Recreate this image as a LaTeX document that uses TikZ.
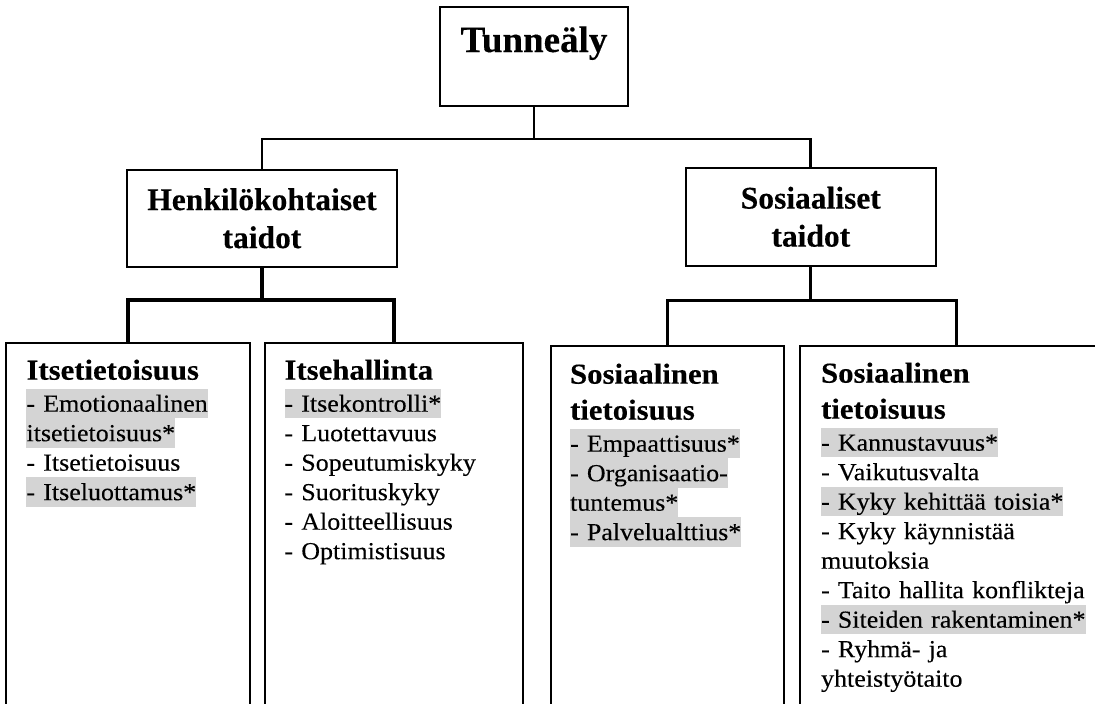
\documentclass[tikz,border=0pt]{standalone}
\usepackage{fontspec}
\setmainfont{Liberation Serif}[FakeBold=0.25]
\newfontfamily\leaffont{Liberation Serif}[FakeStretch=1.06, FakeBold=0.25]
\usepackage{tikz}
\usetikzlibrary{positioning}
\definecolor{mark-grey}{RGB}{212,212,212}

\newcommand{\hilite}[1]{{\setlength{\fboxsep}{0pt}\colorbox{mark-grey}{\rule[-6.5pt]{0pt}{29.5pt}#1}}}
\newcommand{\leaftitle}[1]{{\fontsize{29}{36}\selectfont\bfseries #1}}

\begin{document}
\begin{tikzpicture}[
    x=1pt, y=-1pt,
    topbox/.style={rectangle, draw, line width=1.8pt, inner sep=0pt, font=\fontsize{37}{42}\selectfont\bfseries},
    midbox/.style={rectangle, draw, line width=1.8pt, align=center, font=\fontsize{31.5}{38}\selectfont\bfseries},
    leafbox/.style={rectangle, draw, line width=1.8pt, inner sep=0pt},
    leaftxt/.style={anchor=base west, inner sep=0pt, align=left, font=\leaffont\fontsize{24.5}{29.5}\selectfont},
    conn/.style={line width=2.8pt},
    bar/.style={line width=3.6pt}
]
\useasboundingbox (0,0) rectangle (1095,704);
\clip (0,0) rectangle (1095,704);

% top levels
\node[topbox, minimum width=188pt, text height=45pt, text depth=54pt] (tunnealy) at (534,56.5) {Tunneäly};
\node[midbox, minimum width=269.5pt, minimum height=97pt, below left=62pt and 41.5pt of tunnealy] (henkilo) {Henkilökohtaiset\\taidot};
\node[midbox, minimum width=250pt, minimum height=98pt, below right=60pt and 56pt of tunnealy] (sosiaali) {Sosiaaliset\\taidot};

% leaf boxes
\node[leafbox, minimum width=243.5pt, minimum height=363.5pt, below=74pt of henkilo, xshift=-134pt] (itsetieto) {};
\node[leafbox, minimum width=258pt, minimum height=363.5pt, below=74pt of henkilo, xshift=132.25pt] (itsehallinta) {};
\node[leafbox, minimum width=233pt, minimum height=360.5pt, below=78pt of sosiaali, xshift=-143.5pt] (sostieto) {};
\node[leafbox, minimum width=314pt, minimum height=360.5pt, below=78pt of sosiaali, xshift=146pt] (sostaito) {};

% leaf texts
\node[leaftxt, text width=225pt] (itsetietoTxt) at ([xshift=21pt, yshift=-38pt]itsetieto.north west) {%
  \leaftitle{Itsetietoisuus}\\[2.5pt]
  \hilite{- Emotionaalinen}\\
  \hilite{itsetietoisuus*}\\
  - Itsetietoisuus\\
  \hilite{- Itseluottamus*}};
\node[leaftxt, text width=235pt] (itsehallintaTxt) at ([xshift=20pt, yshift=-38pt]itsehallinta.north west) {%
  \leaftitle{Itsehallinta}\\[2.5pt]
  \hilite{- Itsekontrolli*}\\
  - Luotettavuus\\
  - Sopeutumiskyky\\
  - Suorituskyky\\
  - Aloitteellisuus\\
  - Optimistisuus};
\node[leaftxt, text width=210pt] (sostietoTxt) at ([xshift=20pt, yshift=-39pt]sostieto.north west) {%
  \leaftitle{Sosiaalinen}\\[6.5pt]
  \leaftitle{tietoisuus}\\[2.5pt]
  \hilite{- Empaattisuus*}\\
  \hilite{- Organisaatio-}\\
  \hilite{tuntemus*}\\
  \hilite{- Palvelualttius*}};
\node[leaftxt, text width=285pt] (sostaitoTxt) at ([xshift=22pt, yshift=-38pt]sostaito.north west) {%
  \leaftitle{Sosiaalinen}\\[6.5pt]
  \leaftitle{tietoisuus}\\[2.5pt]
  \hilite{- Kannustavuus*}\\
  - Vaikutusvalta\\
  \hilite{- Kyky kehittää toisia*}\\
  - Kyky käynnistää\\
  muutoksia\\
  - Taito hallita konflikteja\\
  \hilite{- Siteiden rakentaminen*}\\
  - Ryhmä- ja\\
  yhteistyötaito};

% connectors
\coordinate[below=32pt of tunnealy.south] (fork1);
\coordinate[below=32pt of henkilo.south] (fork2);
\coordinate[below=34pt of sosiaali.south] (fork3);
\draw[conn] (tunnealy) -- (fork1);
\draw[conn] (henkilo) |- (fork1) -| (sosiaali);
\draw[bar] (henkilo) -- (fork2);
\draw[bar] (itsetieto) |- (fork2) -| (itsehallinta);
\draw[conn] (sosiaali) -- (fork3);
\draw[conn] (sostieto) |- (fork3) -| (sostaito);

\end{tikzpicture}
\end{document}
